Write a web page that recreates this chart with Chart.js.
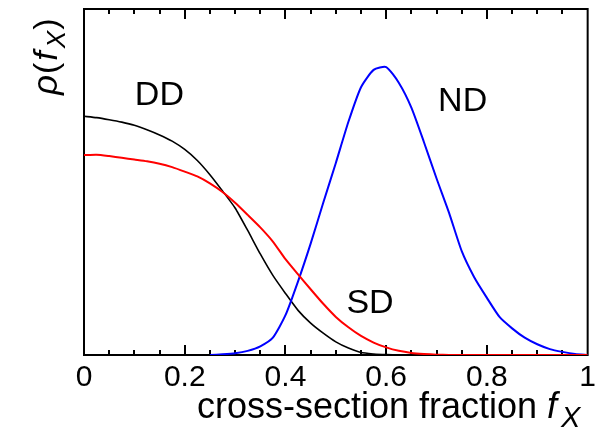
<!DOCTYPE html>
<html lang="en">
<head>
    <meta charset="UTF-8">
    <title>Cross-section fraction distributions</title>
    <script src="https://cdn.jsdelivr.net/npm/chart.js"></script>
    <style>
        html, body { margin: 0; padding: 0; background: #fff; }
        canvas { display: block; }
    </style>
</head>
<body>
    <canvas id="fxChart" width="601" height="430"></canvas>

    <script>
        // sampled cross-section fraction f_X
        const fx = [0, 0.025, 0.05, 0.075, 0.1, 0.125, 0.15, 0.175, 0.2, 0.225,
                    0.25, 0.275, 0.3, 0.325, 0.35, 0.375, 0.4, 0.425, 0.45, 0.475,
                    0.5, 0.525, 0.55, 0.575, 0.6, 0.625, 0.65, 0.675, 0.7, 0.725,
                    0.75, 0.775, 0.8, 0.825, 0.85, 0.875, 0.9, 0.925, 0.95, 0.975, 1];

        // distribution for DD (black)
        const rhoDD = [0.690, 0.686, 0.680, 0.673, 0.664, 0.651, 0.636, 0.618, 0.594, 0.562,
                       0.521, 0.474, 0.425, 0.360, 0.292, 0.230, 0.178, 0.129, 0.092, 0.063,
                       0.038, 0.020, 0.007, 0.003, 0.001, 0, 0, 0, 0, 0,
                       0, 0, 0, 0, 0, 0, 0, 0, 0, 0, 0];

        // distribution for SD (red)
        const rhoSD = [0.578, 0.579, 0.575, 0.570, 0.565, 0.560, 0.553, 0.543, 0.530, 0.516,
                       0.496, 0.471, 0.440, 0.405, 0.369, 0.328, 0.277, 0.233, 0.190, 0.148,
                       0.110, 0.080, 0.055, 0.036, 0.022, 0.012, 0.006, 0.003, 0.001, 0,
                       0, 0, 0, 0, 0, 0, 0, 0, 0, 0, 0];

        // distribution for ND (blue), nothing below f_X = 0.25
        const rhoND = [null, null, null, null, null, null, null, null, null, null,
                       0, 0.002, 0.005, 0.012, 0.025, 0.050, 0.115, 0.213, 0.322, 0.440,
                       0.555, 0.674, 0.774, 0.824, 0.832, 0.787, 0.715, 0.615, 0.510, 0.410,
                       0.300, 0.224, 0.165, 0.110, 0.077, 0.050, 0.031, 0.017, 0.009, 0.003, 0];

        const xTickLabels = ['0', '0.2', '0.4', '0.6', '0.8', '1'];
        const xMinorStep = 0.05;

        // curve labels: text and where it sits in data units (left edge, baseline)
        const curveLabels = ['DD', 'ND', 'SD'];
        const curveLabelX = [0.101, 0.703, 0.521];
        const curveLabelY = [0.723, 0.704, 0.121];

        const FONT = '"Liberation Sans", Arial, Helvetica, sans-serif';

        function toPoints(ys) {
            return fx.map((x, i) => ({ x: x, y: ys[i] }));
        }

        // box, inward ticks and all the hand-set text
        const framePlugin = {
            id: 'frame',
            beforeDatasetsDraw(chart) {
                const ctx = chart.ctx;
                const a = chart.chartArea;
                const xs = chart.scales.x;
                ctx.save();
                ctx.strokeStyle = '#000';
                ctx.lineWidth = 2;
                ctx.strokeRect(a.left, a.top, a.right - a.left, a.bottom - a.top);
                ctx.beginPath();
                const n = Math.round(1 / xMinorStep);
                for (let i = 1; i < n; i++) {
                    const px = Math.round(xs.getPixelForValue(i * xMinorStep));
                    const len = (i % 4 === 0) ? 10 : 5;
                    ctx.moveTo(px, a.bottom);
                    ctx.lineTo(px, a.bottom - len);
                    ctx.moveTo(px, a.top);
                    ctx.lineTo(px, a.top + len);
                }
                ctx.stroke();
                ctx.restore();
            },
            afterDraw(chart) {
                const ctx = chart.ctx;
                const xs = chart.scales.x;
                const ys = chart.scales.y;
                ctx.save();
                ctx.fillStyle = '#000';
                ctx.textBaseline = 'alphabetic';
                ctx.textAlign = 'left';

                ctx.font = '34px ' + FONT;
                curveLabels.forEach((t, i) => {
                    ctx.fillText(t, xs.getPixelForValue(curveLabelX[i]), ys.getPixelForValue(curveLabelY[i]));
                });

                // x axis title
                let x = 197;
                const base = 418;
                ctx.font = '36px ' + FONT;
                const main = 'cross-section fraction ';
                ctx.fillText(main, x, base);
                x += ctx.measureText(main).width;
                ctx.font = 'italic 36px ' + FONT;
                ctx.fillText('f', x, base);
                x += ctx.measureText('f').width + 4;
                ctx.font = 'italic 29px ' + FONT;
                ctx.fillText('X', x, base + 9);

                // y axis title, rotated
                ctx.translate(57, 95);
                ctx.rotate(-Math.PI / 2);
                let y = 0;
                ctx.font = 'italic 35px ' + FONT;
                ctx.fillText('\u03c1', y, 0);
                y += ctx.measureText('\u03c1').width + 1;
                ctx.font = '34px ' + FONT;
                ctx.fillText('(', y, 0);
                y += ctx.measureText('(').width + 2;
                ctx.font = 'italic 34px ' + FONT;
                ctx.fillText('f', y, 0);
                y += ctx.measureText('f').width + 3;
                ctx.font = 'italic 26px ' + FONT;
                ctx.fillText('X', y, 8);
                y += ctx.measureText('X').width + 1;
                ctx.font = '34px ' + FONT;
                ctx.fillText(')', y, 0);
                ctx.restore();
            }
        };

        new Chart(document.getElementById('fxChart').getContext('2d'), {
            type: 'line',
            data: {
                datasets: [
                    { label: 'SD', data: toPoints(rhoSD), borderColor: '#ff0000', borderWidth: 2 },
                    { label: 'ND', data: toPoints(rhoND), borderColor: '#0000ff', borderWidth: 2 },
                    { label: 'DD', data: toPoints(rhoDD), borderColor: '#000000', borderWidth: 1.6 }
                ]
            },
            options: {
                responsive: false,
                animation: false,
                spanGaps: false,
                elements: {
                    point: { radius: 0 },
                    line: { tension: 0.2, fill: false }
                },
                layout: { padding: { left: 84, right: 6, top: 9, bottom: 0 } },
                scales: {
                    x: {
                        type: 'linear',
                        min: 0,
                        max: 1,
                        grid: { display: false, drawTicks: false },
                        border: { display: false },
                        afterFit(scale) { scale.height = 75; },
                        ticks: {
                            stepSize: 0.2,
                            autoSkip: false,
                            maxRotation: 0,
                            padding: 5,
                            color: '#000',
                            font: { family: FONT, size: 30 },
                            callback: (v) => xTickLabels[Math.round(v * 5)]
                        }
                    },
                    y: {
                        type: 'linear',
                        min: 0,
                        max: 1,
                        display: false
                    }
                },
                plugins: {
                    legend: { display: false },
                    tooltip: { enabled: false }
                }
            },
            plugins: [framePlugin]
        });
    </script>
</body>
</html>
